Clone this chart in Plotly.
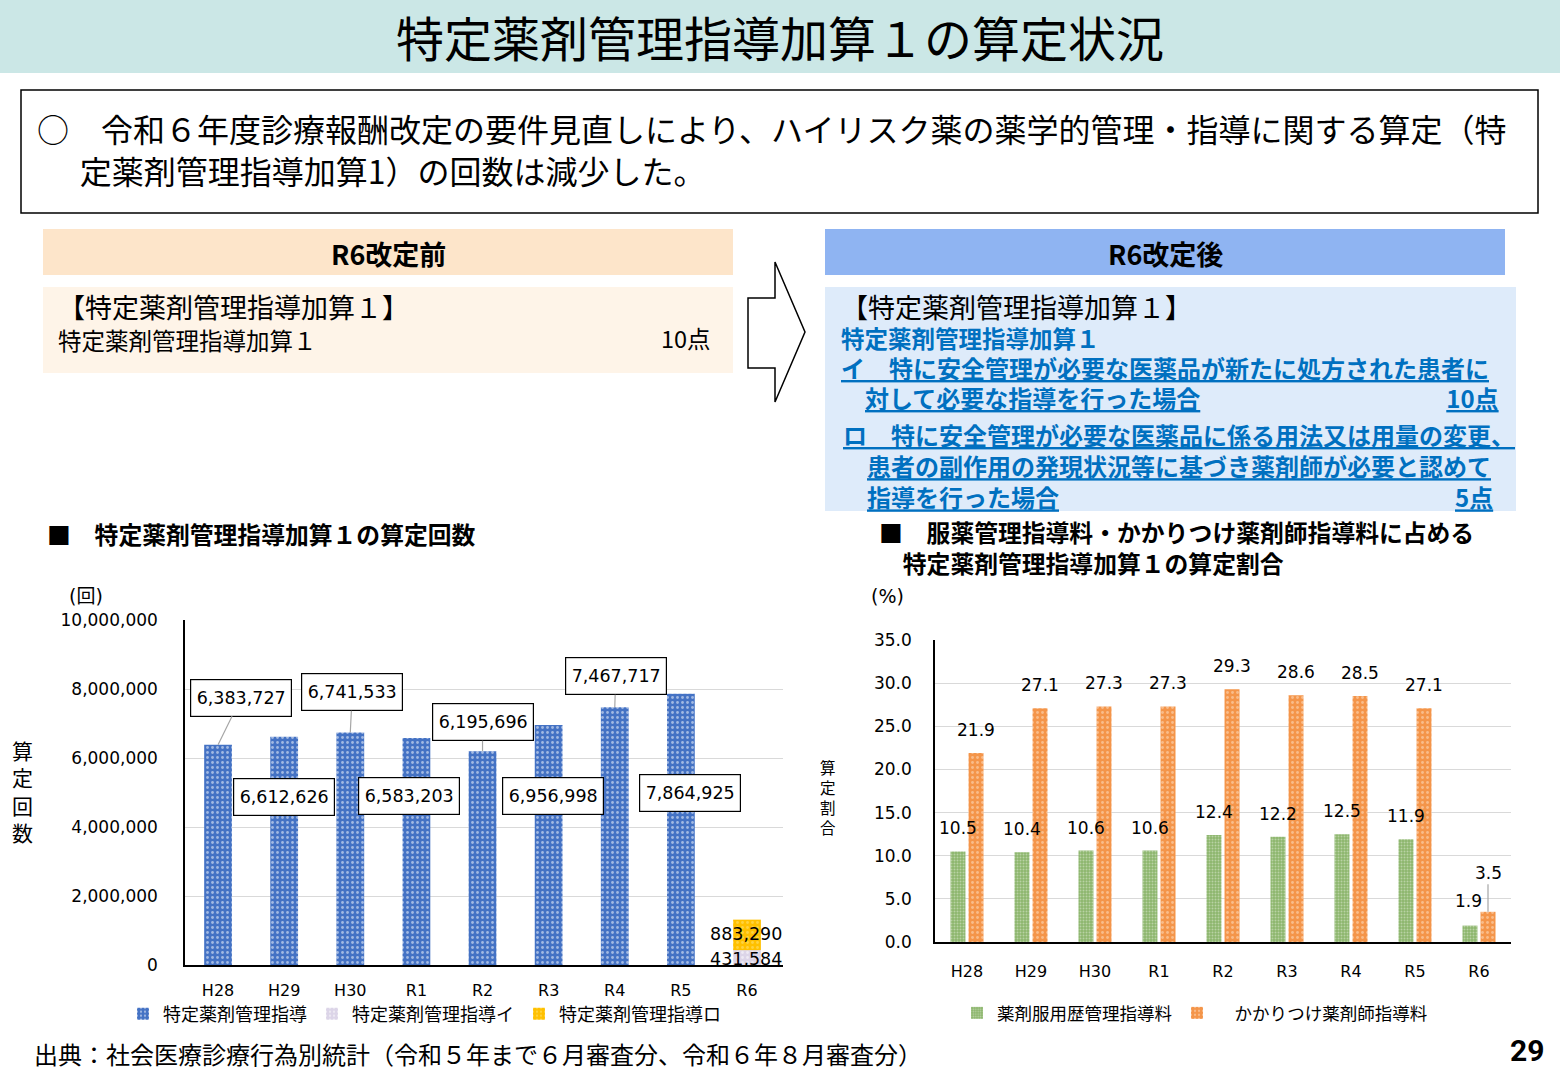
import plotly.graph_objects as go

W, H = 1560, 1080
JP = "Noto Sans CJK JP"
NUM = "DejaVu Sans, Noto Sans CJK JP"

# ---------------- data ----------------
years = ["H28", "H29", "H30", "R1", "R2", "R3", "R4", "R5", "R6"]
count_shido = [6383727, 6612626, 6741533, 6583203, 6195696, 6956998, 7467717, 7864925, None]
count_i = [None, None, None, None, None, None, None, None, 431584]
count_ro = [None, None, None, None, None, None, None, None, 883290]
ratio_fukuyaku = [10.5, 10.4, 10.6, 10.6, 12.4, 12.2, 12.5, 11.9, 1.9]
ratio_kakari = [21.9, 27.1, 27.3, 27.3, 29.3, 28.6, 28.5, 27.1, 3.5]

count_names = ["特定薬剤管理指導", "特定薬剤管理指導イ", "特定薬剤管理指導ロ"]
ratio_names = ["薬剤服用歴管理指導料", "　かかりつけ薬剤師指導料"]

# label placement for the boxed count labels: (leader line?, dx px, dy px)
count_label_place = [(True, 23, -47), (False, 0, -60), (True, 2, -40), (False, -7, -58),
                     (True, 0, -29), (False, 4, -71), (True, 1, -31), (False, 9, -99)]

BLUE = "#4472C4"
LAV = "#DCD5E8"
YEL = "#FFC000"
GREEN = "#8CB56C"
ORANGE = "#F4954A"

fig = go.Figure()

# ---------------- left chart ----------------
fig.add_trace(go.Bar(
    x=years, y=count_shido, name=count_names[0], xaxis="x", yaxis="y",
    width=0.42, offset=-0.21, legend="legend",
    marker=dict(color=BLUE, line=dict(width=0),
                pattern=dict(shape=".", fgcolor="white", bgcolor=BLUE, size=5, solidity=0.25)),
))
fig.add_trace(go.Bar(
    x=years, y=count_i, name=count_names[1], xaxis="x", yaxis="y",
    width=0.42, offset=-0.21, legend="legend",
    marker=dict(color=LAV, line=dict(width=0),
                pattern=dict(shape=".", fgcolor="white", bgcolor=LAV, size=5, solidity=0.25)),
))
fig.add_trace(go.Bar(
    x=years, y=count_ro, base=count_i, name=count_names[2], xaxis="x", yaxis="y",
    width=0.42, offset=-0.21, legend="legend",
    marker=dict(color=YEL, line=dict(width=0),
                pattern=dict(shape=".", fgcolor="#FFE680", bgcolor=YEL, size=5, solidity=0.25)),
))

# ---------------- right chart ----------------
fig.add_trace(go.Bar(
    x=years, y=ratio_fukuyaku, name=ratio_names[0], xaxis="x2", yaxis="y2",
    width=0.234, offset=-0.258, legend="legend2",
    marker=dict(color=GREEN, line=dict(width=0),
                pattern=dict(shape=".", fgcolor="#E6F0DC", bgcolor=GREEN, size=3, solidity=0.35)),
))
fig.add_trace(go.Bar(
    x=years, y=ratio_kakari, name=ratio_names[1], xaxis="x2", yaxis="y2",
    width=0.234, offset=0.024, legend="legend2",
    marker=dict(color=ORANGE, line=dict(width=0),
                pattern=dict(shape=".", fgcolor="#FDE3CC", bgcolor=ORANGE, size=5, solidity=0.25)),
))

# ---------------- slide decorations ----------------
def rect(x0, y0, x1, y1, fill, line=None, lw=0):
    fig.add_shape(type="rect", xref="paper", yref="paper",
                  x0=x0 / W, x1=x1 / W, y0=1 - y1 / H, y1=1 - y0 / H,
                  fillcolor=fill, line=dict(color=line or fill, width=lw), layer="below")

rect(0, 0, 1560, 73, "#CBE7E6")
rect(21, 90, 1538, 213, "white", "black", 1.5)
rect(43, 229, 733, 275, "#FDE5CA")
rect(43, 287, 733, 373, "#FEF4E8")
rect(825, 229, 1505, 275, "#8FB4F2")
rect(825, 287, 1516, 511, "#DEEBFA")

arrow_pts = [(748, 298), (775, 298), (775, 262), (805, 332), (775, 402), (775, 368), (748, 368)]
path = "M" + " L".join(f"{x / W},{1 - y / H}" for x, y in arrow_pts) + " Z"
fig.add_shape(type="path", xref="paper", yref="paper", path=path,
              fillcolor="white", line=dict(color="black", width=1.5))


def txt(s, x, y, size, color="black", bold=False, xanchor="left", family=JP):
    fig.add_annotation(text=f"<b>{s}</b>" if bold else s, x=x / W, y=1 - y / H,
                       xref="paper", yref="paper", showarrow=False,
                       xanchor=xanchor, yanchor="middle", align="left", borderpad=0,
                       font=dict(size=size, color=color, family=family))


def sp(s, size, color="black"):
    return f"<span style='font-size:{size}px;color:{color}'>{s}</span>"


BL = "#0070C0"
FW = "\u3000"

txt("特定薬剤管理指導加算１の算定状況", 780, 36, 48, xanchor="center")
txt("○　令和６年度診療報酬改定の要件見直しにより、ハイリスク薬の薬学的管理・指導に関する算定（特"
    "<br>" + FW + "\u2004定薬剤管理指導加算1）の回数は減少した。", 36, 149, 32)

txt("R6改定前", 388, 253, 27, bold=True, xanchor="center")
txt(sp("【特定薬剤管理指導加算１】", 27) + "<br>" + sp("特定薬剤管理指導加算１", 23.5),
    57, 322, 24.6)
txt("10点", 712, 338, 23.5, xanchor="right")

txt("R6改定後", 1165, 253, 27, bold=True, xanchor="center")
txt(sp("【特定薬剤管理指導加算１】", 27)
    + "<br>" + sp("<b>特定薬剤管理指導加算１</b>", 23.5, BL)
    + "<br>" + sp("<b><u>イ　特に安全管理が必要な医薬品が新たに処方された患者に</u></b>", 24, BL)
    + "<br>" + sp(FW + "<b><u>対して必要な指導を行った場合</u></b>" + FW * 10 + "\u2005"
                  + "<b><u>10点</u></b>", 24, BL),
    840, 351, 23.08)
txt("<u>ロ　特に安全管理が必要な医薬品に係る用法又は用量の変更、</u><br>"
    + FW + "<u>患者の副作用の発現状況等に基づき薬剤師が必要と認めて</u><br>"
    + FW + "<u>指導を行った場合</u>" + FW * 16 + "\u2002" + "<u>5点</u>",
    842, 465, 24, color=BL, bold=True)

txt("■　特定薬剤管理指導加算１の算定回数", 46, 533, 23.8, bold=True)
txt("■　服薬管理指導料・かかりつけ薬剤師指導料に占める<br>" + FW + "特定薬剤管理指導加算１の算定割合",
    878, 547, 23.8, bold=True)

txt("(回)", 86, 596, 19, xanchor="center", family=NUM)
txt("(%)", 887, 596, 19, xanchor="center", family=NUM)
txt("算<br>定<br>回<br>数", 22, 791, 21, xanchor="center")
txt("算<br>定<br>割<br>合", 828, 797, 15.5, xanchor="center")

txt("出典：社会医療診療行為別統計（令和５年まで６月審査分、令和６年８月審査分）", 33, 1053, 24)
txt("29", 1545, 1050, 30, bold=True, xanchor="right", family="Roboto")

# ---------------- data labels ----------------
for cat, v, (lead, dx, dy) in zip(years, count_shido, count_label_place):
    common = dict(x=cat, y=v, xref="x", yref="y", text=f"{v:,}",
                  font=dict(size=17.5, family=NUM, color="black"),
                  bgcolor="white", bordercolor="black", borderwidth=1.2,
                  width=98, height=34, borderpad=1)
    if lead:
        fig.add_annotation(**common, showarrow=True, ax=dx, ay=dy, arrowhead=0,
                           arrowwidth=1.2, arrowcolor="#A6A6A6", standoff=0)
    else:
        fig.add_annotation(**common, showarrow=False, xshift=dx, yshift=dy)

fig.add_annotation(x=years[8], y=count_i[8] / 2, xref="x", yref="y", text=f"{count_i[8]:,}",
                   showarrow=False, xshift=-1, yshift=-1, borderpad=0,
                   font=dict(size=17.5, family=NUM, color="black"))
fig.add_annotation(x=years[8], y=count_i[8] + count_ro[8] / 2, xref="x", yref="y",
                   text=f"{count_ro[8]:,}", showarrow=False, xshift=-1, yshift=1, borderpad=0,
                   font=dict(size=17.5, family=NUM, color="black"))

LF = dict(size=17, family=NUM, color="black")
for cat, g, o in zip(years[:-1], ratio_fukuyaku[:-1], ratio_kakari[:-1]):
    fig.add_annotation(x=cat, y=g, xref="x2", yref="y2", text=f"{g:.1f}", showarrow=False,
                       xshift=-9, yshift=23, font=LF)
    fig.add_annotation(x=cat, y=o, xref="x2", yref="y2", text=f"{o:.1f}", showarrow=False,
                       xshift=9, yshift=23, font=LF)
fig.add_annotation(x=years[8], y=ratio_fukuyaku[8], xref="x2", yref="y2",
                   text=f"{ratio_fukuyaku[8]:.1f}", showarrow=False, xshift=-11, yshift=25, font=LF)
fig.add_annotation(x=years[8], y=ratio_kakari[8], xref="x2", yref="y2",
                   text=f"{ratio_kakari[8]:.1f}", showarrow=True, ax=0, ay=-39, xshift=9,
                   arrowhead=0, arrowwidth=1.2, arrowcolor="#A6A6A6", standoff=0, font=LF)

# ---------------- layout ----------------
axis_common = dict(showline=True, linecolor="black", linewidth=1.5, ticks="", automargin=False,
                   tickfont=dict(size=16, family=NUM, color="black"), fixedrange=True)

fig.update_layout(
    width=W, height=H, margin=dict(l=0, r=0, t=0, b=0, pad=0, autoexpand=False),
    paper_bgcolor="white", plot_bgcolor="white",
    barmode="overlay", showlegend=True,
    font=dict(family=JP, color="black"),
    xaxis=dict(**axis_common, domain=[185 / W, 783 / W], anchor="y", type="category",
               categoryorder="array", categoryarray=years, showgrid=False, ticklabelstandoff=10),
    yaxis=dict(showline=True, linecolor="black", linewidth=1.5, ticks="", fixedrange=True,
               automargin=False,
               domain=[1 - 965 / H, 1 - 620 / H], anchor="x", range=[0, 1e7], dtick=2e6,
               tickformat=",d", gridcolor="#D9D9D9", gridwidth=1, zeroline=False,
               tickfont=dict(size=17, family=NUM, color="black"), ticklabelstandoff=22),
    xaxis2=dict(**axis_common, domain=[935 / W, 1511 / W], anchor="y2", type="category",
                categoryorder="array", categoryarray=years, showgrid=False, ticklabelstandoff=14),
    yaxis2=dict(showline=True, linecolor="black", linewidth=1.5, ticks="", fixedrange=True,
                automargin=False,
                domain=[1 - 942 / H, 1 - 640 / H], anchor="x2", range=[0, 35], dtick=5,
                tickformat=".1f", gridcolor="#D9D9D9", gridwidth=1, zeroline=False,
                tickfont=dict(size=17, family=NUM, color="black"), ticklabelstandoff=18),
    legend=dict(x=123 / W, y=1 - 1014 / H, xanchor="left", yanchor="middle", orientation="h",
                font=dict(size=18, family=JP, color="black"),
                bgcolor="rgba(0,0,0,0)", traceorder="normal"),
    legend2=dict(x=957 / W, y=1 - 1013 / H, xanchor="left", yanchor="middle", orientation="h",
                 font=dict(size=17.5, family=JP, color="black"),
                 bgcolor="rgba(0,0,0,0)", traceorder="normal"),
)

fig.write_html("out.html", config={"displayModeBar": False},
               post_script="document.body.style.margin='0px';")
